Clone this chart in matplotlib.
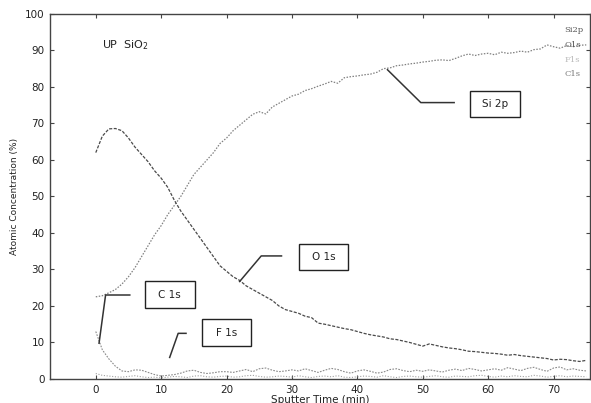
import matplotlib
matplotlib.use('Agg')
import matplotlib.pyplot as plt
from matplotlib.patches import Rectangle

# sputter time (min), one reading per minute
time_min = list(range(0, 76))

si2p = [22.5, 22.8, 23.6, 24.5, 26.0, 28.0, 30.5, 33.5, 36.5, 39.5,
        42.0, 45.0, 47.5, 50.0, 53.0, 56.0, 58.0, 60.0, 62.0, 64.5,
        66.0, 68.0, 69.5, 71.0, 72.5, 73.2, 72.6, 74.5, 75.5, 76.5,
        77.5, 78.0, 79.0, 79.5, 80.2, 80.8, 81.5, 81.0, 82.5, 82.8,
        83.0, 83.3, 83.5, 84.0, 85.0, 85.2, 85.8, 86.0, 86.3, 86.5,
        86.8, 87.0, 87.3, 87.4, 87.2, 87.8, 88.5, 89.0, 88.6, 89.0,
        89.2, 88.8, 89.5, 89.2, 89.4, 89.8, 89.5, 90.2, 90.4, 91.5,
        91.0, 90.6, 91.3, 91.0, 91.4, 91.5]

o1s = [62.0, 66.5, 68.5, 68.6, 68.0, 66.0, 63.5, 61.5, 59.5, 57.0,
       55.0, 52.5, 49.0, 46.0, 43.5, 41.0, 38.5, 36.0, 33.5, 31.0,
       29.5, 28.0, 27.0, 25.5, 24.5, 23.5, 22.5, 21.5, 20.0, 19.0,
       18.5, 18.0, 17.2, 16.8, 15.3, 15.0, 14.6, 14.2, 13.8, 13.5,
       13.0, 12.5, 12.1, 11.8, 11.5, 11.0, 10.8, 10.4, 10.0, 9.5,
       9.0, 9.6, 9.2, 8.8, 8.5, 8.3, 8.0, 7.6, 7.5, 7.3,
       7.1, 7.0, 6.8, 6.5, 6.7, 6.4, 6.2, 6.0, 5.8, 5.6,
       5.2, 5.4, 5.3, 5.0, 4.8, 5.1]

c1s = [13.0, 8.0, 5.5, 3.5, 2.2, 2.0, 2.5, 2.4, 1.8, 1.2,
       0.8, 1.0, 1.2, 1.6, 2.2, 2.4, 1.8, 1.5, 1.7, 2.0,
       2.0, 1.8, 2.2, 2.6, 2.0, 2.8, 3.0, 2.4, 2.0, 2.2,
       2.5, 2.2, 2.8, 2.3, 1.8, 2.4, 2.9, 2.6, 2.0, 1.6,
       2.2, 2.5, 2.1, 1.6, 1.9, 2.6, 2.8, 2.3, 2.0, 2.4,
       2.1, 2.5, 2.2, 1.9, 2.4, 2.7, 2.3, 2.9, 2.6, 2.2,
       2.5, 2.8, 2.4, 3.1, 2.7, 2.3, 2.9, 3.2, 2.6, 2.1,
       3.0, 3.3, 2.5, 2.8, 2.4, 2.2]

f1s = [1.5, 1.0, 0.8, 0.6, 0.5, 0.7, 0.9, 0.6, 0.4, 0.5,
       0.3, 0.5, 0.7, 0.6, 0.4, 0.8, 0.9, 0.6, 0.5, 0.7,
       0.8, 0.5, 0.6, 0.9, 1.0, 0.7, 0.5, 0.6, 0.8, 0.7,
       0.5, 0.9, 0.6, 0.4, 0.7, 0.8, 0.6, 0.9, 0.5, 0.4,
       0.6, 0.8, 0.7, 0.5, 0.9, 0.6, 0.4, 0.7, 0.8, 0.6,
       0.5, 0.7, 0.9, 0.6, 0.5, 0.8, 0.7, 0.6, 0.9, 1.0,
       0.7, 0.5, 0.8, 0.6, 0.9, 0.7, 0.6, 1.0, 0.8, 0.5,
       0.7, 0.9, 0.6, 0.8, 0.7, 0.6]

# callout labels: name, box lower-left (x, y), leader line points
callouts = [
    ('Si 2p', (57.3, 71.8), [(44.6, 84.7), (49.7, 75.7), (54.8, 75.7)]),
    ('O 1s', (31.0, 29.9), [(22.0, 26.7), (25.3, 33.7), (28.4, 33.7)]),
    ('C 1s', (7.5, 19.5), [(0.5, 9.8), (1.5, 23.0), (5.2, 23.0)]),
    ('F 1s', (16.2, 9.1), [(11.3, 5.9), (12.6, 12.5), (13.8, 12.5)]),
]
legend_names = ['Si2p', 'O1s', 'F1s', 'C1s']

plt.rcParams['font.family'] = ['DejaVu Sans']

fig = plt.figure(figsize=(5.91, 4.03), dpi=100)
ax = fig.add_axes([0.0846, 0.0596, 0.914, 0.906])

ax.plot(time_min, si2p, color='#808080', lw=0.9, ls=(0, (1.2, 1.2)))
ax.plot(time_min, o1s, color='#4a4a4a', lw=0.9, ls=(0, (2.5, 1.2)))
ax.plot(time_min, c1s, color='#8a8a8a', lw=0.8, ls=(0, (1.5, 1.2)))
ax.plot(time_min, f1s, color='#a0a0a0', lw=0.8, ls=(0, (1, 1.5)))

ax.set_xlim(-7, 75.6)
ax.set_ylim(0, 100)
ax.set_xticks(range(0, 80, 10))
ax.set_yticks(range(0, 110, 10))
ax.tick_params(direction='in', length=3, width=0.8, color='#444444',
               top=True, right=True, labelsize=7.5, pad=4, labelcolor='#222222')
for s in ax.spines.values():
    s.set_linestyle((0, (1, 1)))
    s.set_linewidth(1.0)
    s.set_color('#444444')

ax.set_xlabel('Sputter Time (min)', fontsize=7.5, color='#222222', labelpad=0)
ax.set_ylabel('Atomic Concentration (%)', fontsize=6.5, color='#222222', labelpad=4)

ax.text(0.9, 91.5, 'UP  SiO$_2$', fontsize=8, va='center', ha='left', color='#222222')

for name, (bx, by), pts in callouts:
    ax.add_patch(Rectangle((bx, by), 7.6, 7.2, fill=False, ec='#222222', lw=1.0))
    ax.text(bx + 3.8, by + 3.6, name, fontsize=7.5, ha='center', va='center', color='#222222')
    xs = [p[0] for p in pts]
    ys = [p[1] for p in pts]
    ax.plot(xs, ys, color='#333333', lw=1.1)

legend_y = [0.956, 0.915, 0.874, 0.836]
legend_col = ['#555555', '#555555', '#bbbbbb', '#777777']
for name, yy, cc in zip(legend_names, legend_y, legend_col):
    ax.text(0.952, yy, name, transform=ax.transAxes, fontsize=6, family='serif',
            color=cc, va='center', ha='left', clip_on=False)

fig.savefig('out.png', dpi=100)
